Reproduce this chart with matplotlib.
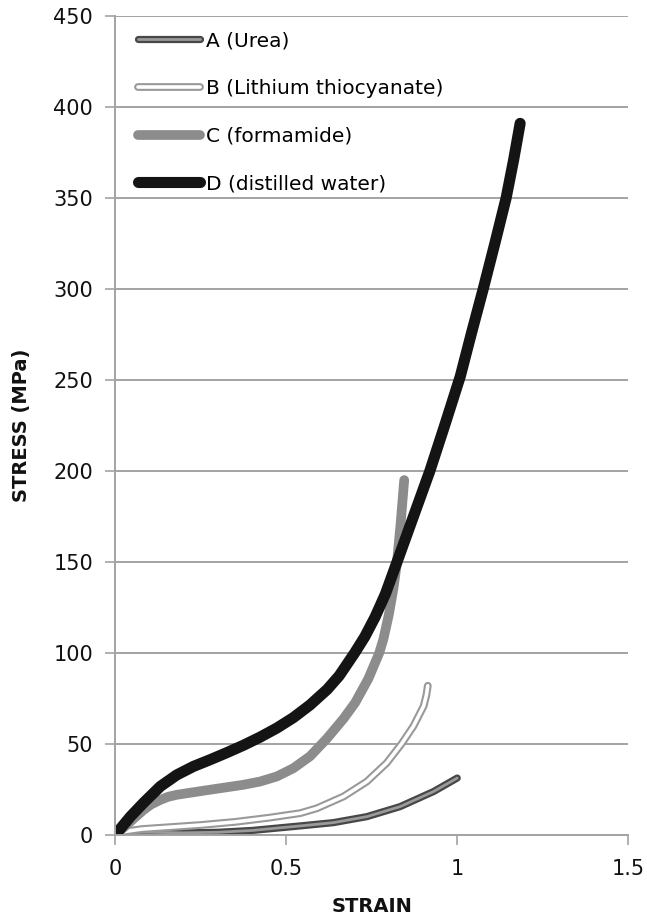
import matplotlib
matplotlib.use('Agg')
import matplotlib.pyplot as plt
import matplotlib.patheffects as pe

# stress-strain curves, one per treatment
strain_a = [0, 0.03, 0.1, 0.2, 0.3, 0.4, 0.473, 0.541, 0.638, 0.736, 0.833, 0.931, 1.0]
stress_a = [0, 1.5, 1.5, 1.2, 1.5, 2.5, 3.8, 5.0, 6.8, 10.1, 15.6, 23.9, 31.3]

strain_b = [0, 0.03, 0.08, 0.15, 0.25, 0.35, 0.45, 0.541, 0.59, 0.668, 0.736, 0.794, 0.838,
            0.872, 0.902, 0.91, 0.914]
stress_b = [0, 2.0, 3.3, 4.2, 5.5, 7.2, 9.5, 12.0, 14.7, 21.2, 29.4, 39.6, 50.3,
            59.8, 70.9, 77.0, 82.0]

strain_c = [0, 0.044, 0.083, 0.105, 0.132, 0.155, 0.18, 0.278, 0.375, 0.424, 0.473, 0.521, 0.57,
            0.619, 0.668, 0.702, 0.74, 0.772, 0.784, 0.80, 0.814, 0.824, 0.835, 0.845]
stress_c = [0, 7.3, 13.8, 16.8, 19.3, 21.0, 22.1, 24.9, 27.6, 29.4, 32.2, 36.7, 43.3,
            53.0, 64.0, 72.8, 85.8, 100.0, 107.5, 121.0, 136.0, 150.0, 172.0, 195.0]

strain_d = [0, 0.044, 0.083, 0.132, 0.18, 0.229, 0.278, 0.327, 0.375, 0.424, 0.473, 0.521, 0.57,
            0.62, 0.655, 0.70, 0.73, 0.76, 0.79, 0.824, 0.872, 0.92, 0.965, 1.009, 1.042,
            1.076, 1.11, 1.143, 1.165, 1.184]
stress_d = [0, 10.0, 17.7, 26.7, 33.0, 37.7, 41.4, 45.3, 49.3, 53.8, 58.8, 64.5, 71.5,
            80.0, 87.5, 100.0, 109.0, 119.8, 132.4, 150.0, 175.0, 200.0, 226.0, 252.0, 276.0,
            300.0, 325.0, 350.0, 371.0, 391.0]

labels = ['A (Urea)', 'B (Lithium thiocyanate)', 'C (formamide)', 'D (distilled water)']
xticks = [0, 0.5, 1, 1.5]
xticklabels = ['0', '0.5', '1', '1.5']
yticks = list(range(0, 451, 50))

fig = plt.figure(figsize=(6.47, 9.18), dpi=100)
ax = fig.add_axes([0.178, 0.0904, 0.793, 0.8922])

grid_col = '#a3a3a3'
line_kw = dict(solid_capstyle='round', solid_joinstyle='round')

# A: dark double line, B: hollow line (white core, gray rim)
ax.plot(strain_a, stress_a, color='#9a9a9a', lw=2.0, label=labels[0], **line_kw,
        path_effects=[pe.Stroke(linewidth=5.2, foreground='#474747', capstyle='round', joinstyle='round'),
                      pe.Normal()])
ax.plot(strain_b, stress_b, color='white', lw=2.6, label=labels[1], **line_kw,
        path_effects=[pe.Stroke(linewidth=5.6, foreground='#999999', capstyle='round', joinstyle='round'),
                      pe.Normal()])
ax.plot(strain_c, stress_c, color='#8c8c8c', lw=7.0, label=labels[2], **line_kw)
ax.plot(strain_d, stress_d, color='#141414', lw=8.0, label=labels[3], **line_kw)

ax.set_xlim(0, 1.5)
ax.set_ylim(0, 450)
ax.set_xticks(xticks)
ax.set_xticklabels(xticklabels)
ax.set_yticks(yticks)

ax.yaxis.grid(True, color=grid_col, lw=1.4)
ax.set_axisbelow(True)
for s in ['top', 'right']:
    ax.spines[s].set_visible(False)
for s in ['left', 'bottom']:
    ax.spines[s].set_color(grid_col)
    ax.spines[s].set_linewidth(1.4)

ax.tick_params(axis='both', direction='out', length=7, width=1.2, color=grid_col,
               labelsize=15, labelcolor='#111111')
ax.tick_params(axis='x', pad=10)
ax.tick_params(axis='y', pad=9)

lab_font = dict(fontweight='bold', fontsize=14, color='#111111')
ax.set_xlabel('STRAIN', labelpad=13, **lab_font)
ax.set_ylabel('STRESS (MPa)', labelpad=16, **lab_font)

ax.legend(loc='upper left', bbox_to_anchor=(0.045, 0.981), frameon=False, fontsize=14.5,
          handlelength=3.08, handletextpad=0.3, labelspacing=1.42, borderpad=0, borderaxespad=0)

fig.savefig('out.png', dpi=100)
